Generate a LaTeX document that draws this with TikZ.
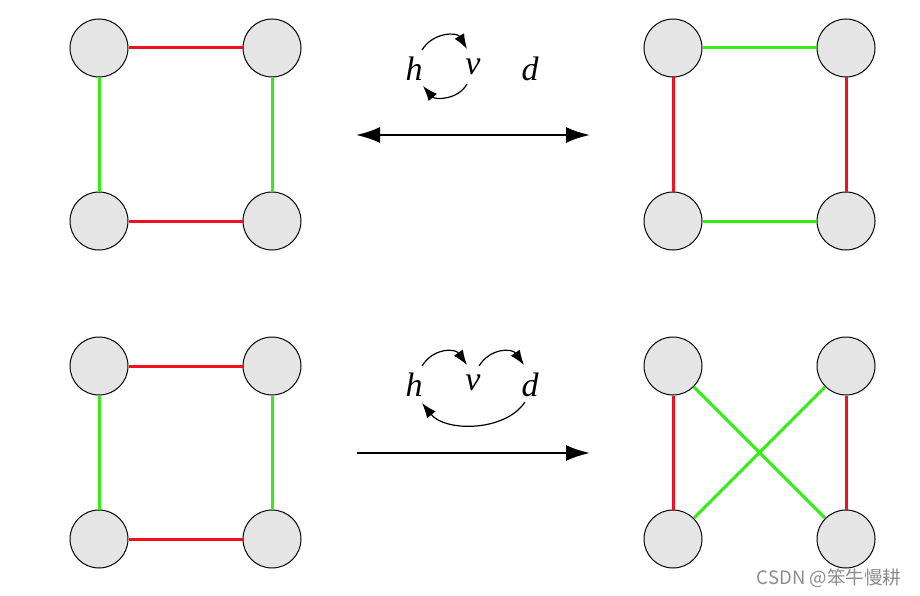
\documentclass[tikz,border=0pt]{standalone}
\usepackage{fontspec}
\setmainfont{Liberation Serif}
\newfontfamily\cjk{Noto Sans CJK SC}
\usetikzlibrary{arrows.meta}
\definecolor{vred}{HTML}{F01020}
\definecolor{vgreen}{HTML}{33EE10}
\definecolor{vgray}{HTML}{E5E5E5}
\tikzset{
  vert/.style={circle, draw=black, line width=1pt, fill=vgray, minimum size=58pt, inner sep=0pt},
  redge/.style={draw=vred, line width=3pt},
  gedge/.style={draw=vgreen, line width=3pt},
  bigarrow/.style={line width=2.2pt, -{Latex[length=24pt,width=16pt]}},
  curv/.style={line width=1.2pt, -{Latex[length=15pt,width=11pt]}},
  lab/.style={font=\fontsize{34}{36}\selectfont\itshape, inner sep=0pt},
}
\begin{document}
\begin{tikzpicture}[x=1pt,y=-1pt]
\useasboundingbox (0,0) rectangle (920,596);
% top left
\node[vert] (a1) at (99,48) {};
\node[vert] (a2) at (272,48) {};
\node[vert] (a3) at (99,221) {};
\node[vert] (a4) at (272,221) {};
\draw[redge] (a1) -- (a2);
\draw[redge] (a3) -- (a4);
\draw[gedge] (a1) -- (a3);
\draw[gedge] (a2) -- (a4);
% top right
\node[vert] (b1) at (673,48) {};
\node[vert] (b2) at (846,48) {};
\node[vert] (b3) at (673,221) {};
\node[vert] (b4) at (846,221) {};
\draw[gedge] (b1) -- (b2);
\draw[gedge] (b3) -- (b4);
\draw[redge] (b1) -- (b3);
\draw[redge] (b2) -- (b4);
% bottom left
\node[vert] (c1) at (99,366) {};
\node[vert] (c2) at (272,366) {};
\node[vert] (c3) at (99,539) {};
\node[vert] (c4) at (272,539) {};
\draw[redge] (c1) -- (c2);
\draw[redge] (c3) -- (c4);
\draw[gedge] (c1) -- (c3);
\draw[gedge] (c2) -- (c4);
% bottom right
\node[vert] (d1) at (673,366) {};
\node[vert] (d2) at (846,366) {};
\node[vert] (d3) at (673,539) {};
\node[vert] (d4) at (846,539) {};
\draw[redge] (d1) -- (d3);
\draw[redge] (d2) -- (d4);
\draw[gedge] (d1) -- (d4);
\draw[gedge] (d2) -- (d3);
% arrows
\coordinate (t1) at (356,135);
\coordinate (t2) at (590,135);
\draw[bigarrow, {Latex[length=24pt,width=16pt]}-{Latex[length=24pt,width=16pt]}] (t1) -- (t2);
\coordinate (u1) at (357,453);
\coordinate (u2) at (590,453);
\draw[bigarrow] (u1) -- (u2);
% top labels
\node[lab] (h1) at (414,69) {h};
\node[lab] (v1) at (473,67) {v};
\node[lab] (e1) at (530,69) {d};
\draw[curv] (422,50) .. controls (433,32) and (457,32) .. (467,49);
\draw[curv] (467,84) .. controls (458,100) and (435,100) .. (423,86);
% bottom labels
\node[lab] (h2) at (414,385) {h};
\node[lab] (v2) at (473,383) {v};
\node[lab] (e2) at (530,385) {d};
\draw[curv] (422,366) .. controls (433,348) and (455,348) .. (467,365);
\draw[curv] (479,366) .. controls (490,348) and (512,348) .. (524,365);
\draw[curv] (525,402) .. controls (505,432) and (445,432) .. (422,403);
% watermark
\node[font=\cjk\fontsize{18.5}{20}\selectfont, text=black!45, inner sep=0pt] (wm) at (829,578) {CSDN @笨牛慢耕};
\end{tikzpicture}
\end{document}
